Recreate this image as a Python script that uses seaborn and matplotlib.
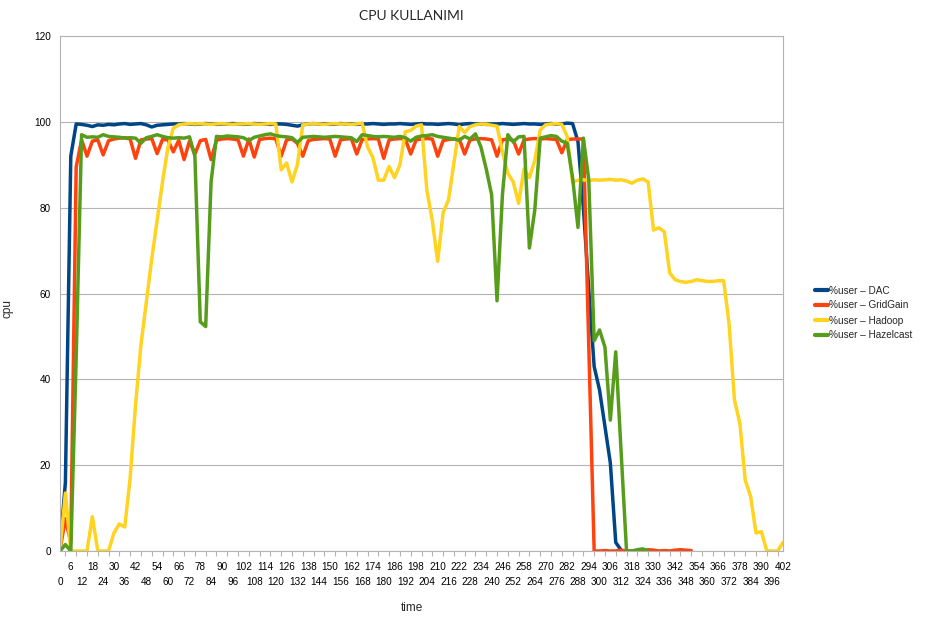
"""
CPU usage (%user) over time for DAC, GridGain, Hadoop and Hazelcast.
Line chart in the LibreOffice default look.
"""

import pandas as pd
import matplotlib.pyplot as plt
import seaborn as sns
from matplotlib.lines import Line2D
from matplotlib.ticker import MultipleLocator, FixedLocator

# === DATA (one sample every 3 s) ===
time = list(range(0, 403, 3))

dac = [0.5, 16, 92, 99.5, 99.4, 99.2, 98.9, 99.3, 99.2, 99.4,
       99.3, 99.5, 99.6, 99.4, 99.5, 99.6, 99.3, 98.8, 99.2, 99.3,
       99.4, 99.5, 99.5, 99.6, 99.5, 99.4, 99.5, 99.6, 99.5, 99.4,
       99.5, 99.5, 99.6, 99.5, 99.4, 99.5, 99.6, 99.5, 99.5, 99.4,
       99.5, 99.5, 99.4, 99.2, 99.0, 99.3, 99.5, 99.6, 99.5, 99.5,
       99.4, 99.5, 99.6, 99.5, 99.5, 99.4, 99.5, 99.5, 99.6, 99.5,
       99.4, 99.5, 99.5, 99.6, 99.5, 99.4, 99.5, 99.6, 99.5, 99.5,
       99.4, 99.5, 99.6, 99.5, 99.3, 99.5, 99.6, 99.5, 99.5, 99.4,
       99.5, 99.5, 99.6, 99.5, 99.4, 99.5, 99.6, 99.5, 99.5, 99.4,
       99.5, 99.6, 99.5, 99.5, 99.7, 99.6, 95.4, 80, 61, 43,
       37.5, 29, 20.5, 2, 0.2]

gridgain = [0.3, 7.5, 2, 89.5, 95.8, 92, 95.5, 95.8, 92.3, 95.6,
            96, 96.2, 96.3, 96, 91.5, 95.8, 96, 96.1, 92.6, 95.9,
            95.8, 93, 95.7, 91.2, 95.5, 92.5, 95.6, 95.9, 91.2, 95.7,
            96, 96.1, 96, 95.8, 92, 96, 91.8, 95.9, 96.1, 96.2,
            96, 92, 95.8, 96, 95, 92, 95.6, 95.9, 96, 96.1,
            96, 92, 95.8, 96, 96.1, 92.5, 95.9, 96, 96.1, 96,
            91.5, 95.8, 96, 96.1, 96, 92.5, 95.8, 96, 96.1, 96,
            92, 95.6, 95.9, 96, 96, 92.5, 95.8, 96, 96.1, 96,
            95.8, 92, 95.8, 96, 95.7, 92.5, 95.8, 96, 96.1, 96,
            96.1, 96, 95.9, 92.8, 95.8, 96, 96, 96, 48, 0,
            0, 0.1, 0, 0, 0.2, 0, 0, 0.1, 0, 0.3,
            0.2, 0, 0.1, 0, 0.2, 0.3, 0.2, 0.1]

hadoop = [0.2, 13.5, 0, 0, 0, 0, 8, 0, 0, 0,
          4.2, 6.3, 5.6, 17, 34, 48, 58, 68, 77, 86,
          94, 98.5, 99.3, 99.5, 99.6, 99.5, 99.6, 99.5, 99.4, 99.5,
          99.6, 99.5, 99.4, 99.5, 99.5, 99.6, 99.5, 99.4, 99.5, 99.6,
          99.5, 88.8, 90.4, 86, 90, 99.3, 99.5, 99.6, 99.5, 99.4,
          99.5, 99.6, 99.5, 99.5, 99.4, 99.5, 99.7, 94.2, 91.6, 86.4,
          86.4, 89.6, 87, 90, 97.7, 98, 99, 99.3, 84, 77,
          67.5, 78.8, 81.8, 90.4, 98.9, 97.5, 98.9, 99.3, 99.5, 99.4,
          99.2, 99, 93, 88, 86, 81, 89, 87, 91, 98.1,
          99.3, 99.5, 99.6, 99.4, 96.6, 86, 86.4, 86.5, 86.3, 86.5,
          86.4, 86.5, 86.6, 86.4, 86.5, 86.2, 85.7, 86.4, 86.7, 86,
          74.8, 75.3, 74.4, 64.8, 63.2, 62.8, 62.6, 62.8, 63.2, 63,
          62.8, 62.8, 63, 63, 53, 35.2, 29.8, 16.5, 12.7, 4.2,
          4.5, 0, 0, 0, 2]

hazelcast = [0, 1.5, 0, 45, 97, 96.4, 96.5, 96.4, 97, 96.6,
             96.5, 96.4, 96.2, 96.3, 96.2, 95, 96.3, 96.6, 97, 96.6,
             96.3, 96.2, 96.3, 96.2, 96.5, 92, 53.4, 52.3, 86, 96.6,
             96.5, 96.7, 96.6, 96.5, 96.3, 95.6, 96.4, 96.7, 97, 97.2,
             96.8, 96.6, 96.5, 96.3, 95.2, 96.4, 96.5, 96.6, 96.5, 96.4,
             96.5, 96.6, 96.5, 96.4, 96.3, 95.4, 97, 96.8, 96.6, 96.5,
             96.6, 96.5, 96.4, 96.6, 96.3, 95.5, 96.4, 96.7, 96.8, 97,
             96.6, 96.4, 96.2, 96, 95.7, 96.6, 96, 97.2, 94.2, 89,
             83, 58.3, 83, 97, 95.3, 96.5, 96.6, 70.6, 79.5, 96.2,
             96.5, 96.8, 96.6, 95.5, 95, 87, 75.4, 96.2, 86.5, 49,
             51.5, 47.5, 30.5, 46.4, 23, 0, 0, 0.3, 0.5, 0]

series_names = ["%user – DAC", "%user – GridGain", "%user – Hadoop", "%user – Hazelcast"]
colors = ["#004586", "#ff420e", "#ffd320", "#579d1c"]
GRID = "#b3b3b3"

frames = []
for name, vals in zip(series_names, [dac, gridgain, hadoop, hazelcast]):
    frames.append(pd.DataFrame({"time": time[:len(vals)], "cpu": vals, "serie": name}))
df = pd.concat(frames, ignore_index=True)

sns.set_style("white")
plt.rcParams["font.family"] = ["Liberation Sans", "DejaVu Sans"]

fig = plt.figure(figsize=(9.25, 6.23), dpi=100)
ax = fig.add_axes([60 / 925, 1 - 551 / 623, 723 / 925, 515 / 623])

sns.lineplot(data=df, x="time", y="cpu", hue="serie", palette=colors,
             linewidth=2.5, ax=ax, legend=False, errorbar=None)

ax.set_xlim(0, 402)
ax.set_ylim(0, 120)
ax.yaxis.set_major_locator(MultipleLocator(20))

# x labels every 6 s on two staggered rows: upper row as major ticks, lower row as minor
upper = list(range(6, 403, 12))
lower = list(range(0, 403, 12))
ax.xaxis.set_major_locator(FixedLocator(upper))
ax.xaxis.set_minor_locator(FixedLocator(lower))
ax.set_xticklabels([str(v) for v in upper])
ax.set_xticklabels([str(v) for v in lower], minor=True)

ax.tick_params(axis="both", which="both", direction="out", length=3.6, width=0.8,
               color=GRID, labelsize=7.2, labelcolor="black")
ax.tick_params(axis="x", which="major", pad=4.6)
ax.tick_params(axis="x", which="minor", pad=15.4)
ax.tick_params(axis="y", pad=3)

# remaining tick marks every 3 s, without labels
sec = ax.secondary_xaxis("bottom")
sec.set_xticks(list(range(3, 403, 6)))
sec.set_xticklabels([])
sec.tick_params(direction="out", length=3.6, width=0.8, color=GRID)
sec.spines["bottom"].set_visible(False)

ax.yaxis.grid(True, color=GRID, linewidth=0.8)
ax.xaxis.grid(False)
for s in ax.spines.values():
    s.set_color(GRID)
    s.set_linewidth(0.8)

ax.set_xlabel("")
ax.set_ylabel("")
fig.text(412 / 925, 1 - 608 / 623, "time", ha="center", va="center", fontsize=8.5)
fig.text(8 / 925, 1 - 308 / 623, "cpu", ha="center", va="center", rotation=90, fontsize=8.5)
fig.text(411 / 925, 1 - 16 / 623, "CPU KULLANIMI", ha="center", va="center",
         fontsize=10, family=["Lato", "DejaVu Sans"])

handles = [Line2D([0], [0], color=c, lw=3) for c in colors]
fig.legend(handles, series_names, loc="center left", bbox_to_anchor=(815 / 925, 1 - 313 / 623),
           frameon=False, fontsize=7.2, handlelength=1.25, handletextpad=0.12,
           labelspacing=0.5, borderpad=0, borderaxespad=0)

fig.savefig("out.png", dpi=100)
plt.close()
